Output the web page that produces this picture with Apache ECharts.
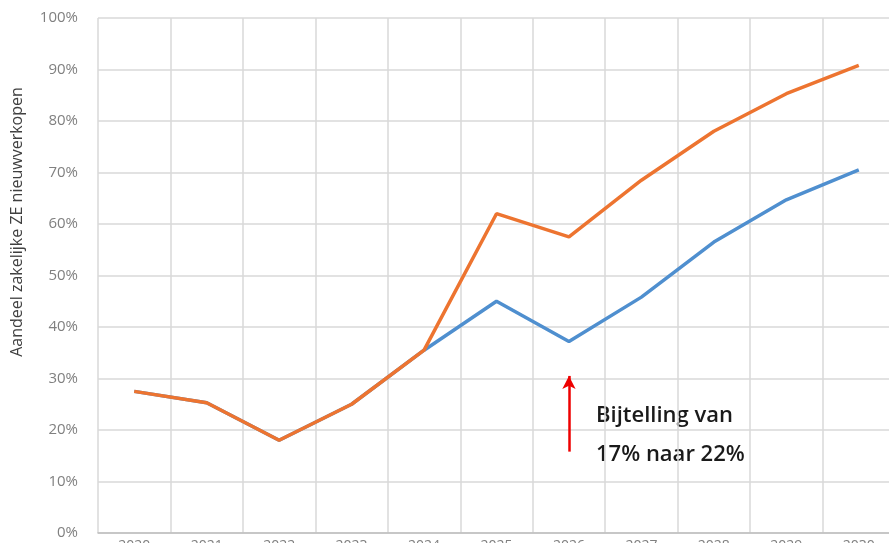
<!DOCTYPE html>
<html>
<head>
<meta charset="utf-8">
<script src="https://cdn.jsdelivr.net/npm/echarts@6/dist/echarts.min.js"></script>
<style>
  html, body { margin: 0; padding: 0; background: #fff; }
  #chart { width: 889px; height: 543px; }
</style>
</head>
<body>
<div id="chart"></div>
<script>
// jaren op de x-as
const years = ['2020', '2021', '2022', '2023', '2024', '2025', '2026', '2027', '2028', '2029', '2030'];
// aandeel zakelijke ZE (%), twee scenario's
const blueSeries = [27.5, 25.3, 18, 25, 35.5, 45, 37.2, 45.8, 56.5, 64.7, 70.5];
const orangeSeries = [27.5, 25.3, 18, 25, 35.5, 62, 57.5, 68.5, 78, 85.3, 90.8];
// pijl bij de bijtelling
const arrowYear = '2026';
const arrowFrom = 15.8;
const arrowTo = 30.5;
const yTicks = [0, 10, 20, 30, 40, 50, 60, 70, 80, 90, 100];

const chartDom = document.getElementById('chart');
const myChart = echarts.init(chartDom);

const option = {
  animation: false,
  grid: {
    left: 98,
    top: 18,
    width: 797,
    bottom: 10,
    containLabel: false,
    outerBoundsMode: 'none'
  },
  xAxis: {
    type: 'category',
    data: years,
    boundaryGap: true,
    axisTick: { show: false },
    axisLine: { lineStyle: { color: '#bfbfbf', width: 1.5 } },
    axisLabel: { color: '#7f7f7f', fontSize: 14, margin: 6, fontFamily: 'Open Sans' },
    splitLine: { show: true, lineStyle: { color: '#d9d9d9', width: 1.5 } }
  },
  yAxis: {
    type: 'value',
    min: 0,
    max: 100,
    interval: 10,
    axisLine: { show: false },
    axisTick: { show: false },
    axisLabel: {
      color: '#808080',
      fontSize: 15,
      margin: 20,
      fontFamily: 'Open Sans',
      formatter: v => (yTicks.includes(v) ? v + '%' : '')
    },
    splitLine: { lineStyle: { color: '#d9d9d9', width: 1.5 } }
  },
  series: [
    {
      name: 'blauw',
      type: 'line',
      data: blueSeries,
      symbol: 'none',
      lineStyle: { color: '#4f8fcf', width: 3.5 },
      z: 2
    },
    {
      name: 'oranje',
      type: 'line',
      data: orangeSeries,
      symbol: 'none',
      lineStyle: { color: '#ed7430', width: 3.5 },
      z: 3,
      markLine: {
        silent: true,
        symbol: ['none', 'arrow'],
        symbolSize: [10, 13],
        label: { show: false },
        lineStyle: { color: '#ee0000', width: 2.5, type: 'solid' },
        data: [[{ coord: [arrowYear, arrowFrom] }, { coord: [arrowYear, arrowTo] }]]
      }
    }
  ],
  graphic: [
    {
      type: 'text',
      x: 17,
      y: 222,
      rotation: Math.PI / 2,
      style: {
        text: 'Aandeel zakelijke ZE nieuwverkopen',
        fill: '#404040',
        fontSize: 16,
        fontFamily: 'Open Sans',
        align: 'center',
        verticalAlign: 'middle'
      }
    },
    {
      type: 'text',
      x: 596,
      y: 396,
      style: {
        text: 'Bijtelling van\n17% naar 22%',
        fill: '#1a1a1a',
        fontSize: 22,
        fontWeight: 600,
        lineHeight: 39,
        fontFamily: 'Open Sans',
        align: 'left',
        verticalAlign: 'top'
      }
    }
  ]
};

myChart.setOption(option);

window.addEventListener('resize', () => {
  myChart.resize();
});
</script>
</body>
</html>
